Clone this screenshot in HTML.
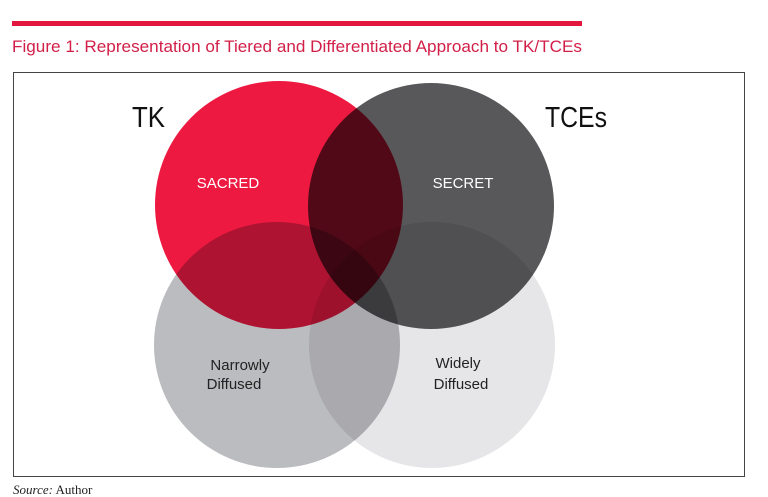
<!DOCTYPE html>
<html><head><style>
body{margin:0;background:#fff;width:768px;height:497px;overflow:hidden;font-family:"Liberation Sans",sans-serif}
</style></head><body>
<svg width="768" height="497" style="position:absolute;left:0;top:0">
<rect x="12" y="21" width="570" height="5" fill="#E3173E"/>
<text x="12" y="52" font-size="16.5" fill="#D21F48" font-family="Liberation Sans" textLength="570" lengthAdjust="spacingAndGlyphs">Figure 1: Representation of Tiered and Differentiated Approach to TK/TCEs</text>
<rect x="13.5" y="72.5" width="731" height="404" fill="#fff" stroke="#444" stroke-width="1"/>
<g style="isolation:isolate">
<circle cx="277" cy="345" r="123" fill="#BBBCBF" style="mix-blend-mode:multiply"/>
<circle cx="432" cy="345" r="123" fill="#E6E6E8" style="mix-blend-mode:multiply"/>
<circle cx="279" cy="205" r="124" fill="#ED1941" style="mix-blend-mode:multiply"/>
<circle cx="431" cy="206" r="123" fill="#58585A" style="mix-blend-mode:multiply"/>
</g>
<text x="132" y="127" font-size="29" fill="#111" textLength="33" lengthAdjust="spacingAndGlyphs">TK</text>
<text x="545" y="127" font-size="29" fill="#111" textLength="62" lengthAdjust="spacingAndGlyphs">TCEs</text>
<text x="228" y="188" font-size="15" fill="#fff" text-anchor="middle">SACRED</text>
<text x="463" y="188" font-size="15" fill="#fff" text-anchor="middle">SECRET</text>
<text x="240" y="370" font-size="15" fill="#222" text-anchor="middle">Narrowly</text>
<text x="234" y="389" font-size="15" fill="#222" text-anchor="middle">Diffused</text>
<text x="458" y="368" font-size="15" fill="#222" text-anchor="middle">Widely</text>
<text x="461" y="389" font-size="15" fill="#222" text-anchor="middle">Diffused</text>
<text x="13" y="494" font-size="13" fill="#222" font-family="Liberation Serif"><tspan font-style="italic">Source:</tspan> Author</text>
</svg>
</body></html>
